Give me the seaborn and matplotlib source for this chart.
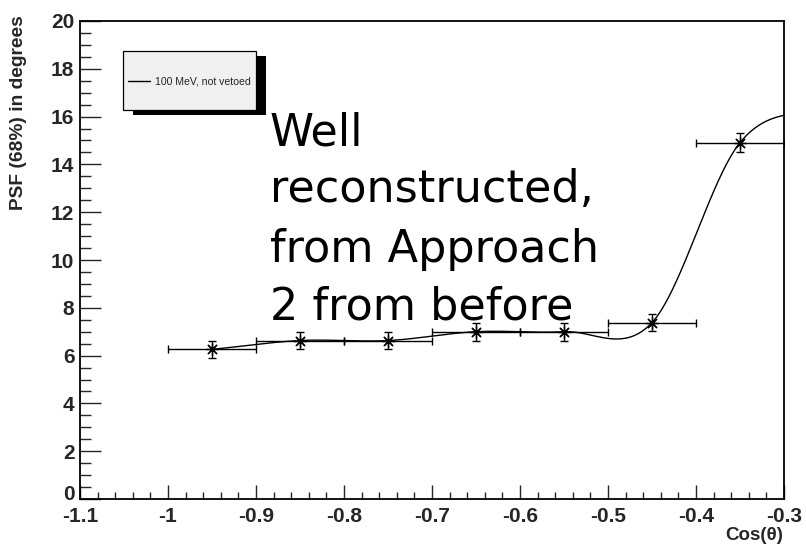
import numpy as np
import pandas as pd
import matplotlib
matplotlib.use("Agg")
import matplotlib.pyplot as plt
import matplotlib.transforms as mtransforms
import seaborn as sns
from matplotlib.patches import Rectangle
from matplotlib.lines import Line2D
from matplotlib.ticker import MultipleLocator

# ---------------- data ----------------
cos_theta = [-0.95, -0.85, -0.75, -0.65, -0.55, -0.45, -0.35, -0.25]
psf_deg = [6.26, 6.63, 6.63, 7.00, 7.00, 7.38, 14.91, 16.45]
psf_err = [0.35, 0.37, 0.37, 0.37, 0.37, 0.36, 0.40, 0.40]
bin_half_width = [0.05, 0.05, 0.05, 0.05, 0.05, 0.05, 0.05, 0.05]
x_ticks = [-1.1, -1.0, -0.9, -0.8, -0.7, -0.6, -0.5, -0.4, -0.3]
x_tick_labels = ["-1.1", "-1", "-0.9", "-0.8", "-0.7", "-0.6", "-0.5", "-0.4", "-0.3"]
y_ticks = [0, 2, 4, 6, 8, 10, 12, 14, 16, 18, 20]
legend_label = "100 MeV, not vetoed"
note_lines = ["Well", "reconstructed,", "from Approach", "2 from before"]
x_title = "Cos(θ)"
y_title = "PSF (68%) in degrees"

W, H, DPI = 806, 548, 100


def smooth_curve(x, y, n_per=80):
    """Catmull-Rom style cubic Hermite curve through the points (like ROOT's 'C')."""
    x = np.asarray(x, float)
    y = np.asarray(y, float)
    n = len(x)
    m = np.zeros(n)
    m[0] = (y[1] - y[0]) / (x[1] - x[0])
    m[-1] = (y[-1] - y[-2]) / (x[-1] - x[-2])
    for i in range(1, n - 1):
        m[i] = (y[i + 1] - y[i - 1]) / (x[i + 1] - x[i - 1])
    xs_all, ys_all = [], []
    for i in range(n - 1):
        h = x[i + 1] - x[i]
        t = np.linspace(0, 1, n_per, endpoint=(i == n - 2))
        h00 = 2 * t ** 3 - 3 * t ** 2 + 1
        h10 = t ** 3 - 2 * t ** 2 + t
        h01 = -2 * t ** 3 + 3 * t ** 2
        h11 = t ** 3 - t ** 2
        xs_all.append(x[i] + t * h)
        ys_all.append(h00 * y[i] + h10 * h * m[i] + h01 * y[i + 1] + h11 * h * m[i + 1])
    return np.concatenate(xs_all), np.concatenate(ys_all)


sns.set_style("white")
plt.rcParams["font.family"] = ["Liberation Sans", "DejaVu Sans"]

fig = plt.figure(figsize=(W / DPI, H / DPI), dpi=DPI)
L, R, T, B = 80, 784, 21, 499
ax = fig.add_axes([L / W, 1 - B / H, (R - L) / W, (B - T) / H])

df = pd.DataFrame({"x": cos_theta, "y": psf_deg, "yerr": psf_err, "xerr": bin_half_width})

# smooth curve through the points
cx, cy = smooth_curve(df["x"], df["y"])
curve = pd.DataFrame({"x": cx, "y": cy})
sns.lineplot(data=curve, x="x", y="y", ax=ax, color="black", linewidth=1.0,
             sort=False, estimator=None)

inside = df[df["x"] <= -0.3]
ax.errorbar(inside["x"], inside["y"], xerr=inside["xerr"], yerr=inside["yerr"],
            fmt="none", ecolor="black", elinewidth=1.0, capsize=2.6, capthick=1.0)
sns.scatterplot(data=inside, x="x", y="y", ax=ax, marker=(8, 2, 0), s=75,
                color="black", linewidth=0.9, zorder=5)

ax.set_xlim(-1.1, -0.3)
ax.set_ylim(0, 20)
ax.set_xticks(x_ticks)
ax.set_xticklabels(x_tick_labels)
ax.set_yticks(y_ticks)
ax.xaxis.set_minor_locator(MultipleLocator(0.02))
ax.yaxis.set_minor_locator(MultipleLocator(0.5))
ax.tick_params(axis="x", which="major", direction="in", length=10.1, width=1.0,
               pad=6, labelsize=15, bottom=True, top=False)
ax.tick_params(axis="x", which="minor", direction="in", length=5.0, width=1.0,
               bottom=True, top=False)
ax.tick_params(axis="y", which="major", direction="in", length=15.1, width=1.0,
               pad=4, labelsize=15, left=True, right=False)
ax.tick_params(axis="y", which="minor", direction="in", length=7.6, width=1.0,
               left=True, right=False)
for lab in ax.get_xticklabels() + ax.get_yticklabels():
    lab.set_fontweight("bold")
# ROOT draws the "0" label slightly above the x axis
ylabs = ax.get_yticklabels()
ylabs[0].set_transform(ylabs[0].get_transform()
                       + mtransforms.ScaledTranslation(0, 5 / 72, fig.dpi_scale_trans))
ax.set_xlabel("")
ax.set_ylabel("")
for sp in ax.spines.values():
    sp.set_visible(True)
    sp.set_color("black")
    sp.set_linewidth(1.3)


def fx(px):
    return px / W


def fy(py):
    return 1 - py / H


# axis titles (ROOT style, aligned to the axis ends)
fig.text(fx(783), fy(535), x_title, ha="right", va="center", fontsize=13.5,
         fontweight="bold")
fig.text(fx(19), fy(15), y_title, ha="center", va="top", rotation=90,
         fontsize=13.8, fontweight="bold")

# legend box with drop shadow
bx0, by0, bx1, by1 = 123, 51, 256, 110
shadow = Rectangle((fx(bx0 + 10), fy(by1 + 5)), fx(bx1 - bx0), (by1 - by0) / H,
                   transform=fig.transFigure, facecolor="black", edgecolor="black",
                   linewidth=0, zorder=10)
box = Rectangle((fx(bx0), fy(by1)), fx(bx1 - bx0), (by1 - by0) / H,
                transform=fig.transFigure, facecolor="#f0f0f0", edgecolor="black",
                linewidth=0.9, zorder=11)
fig.patches.extend([shadow, box])
fig.lines.append(Line2D([fx(128), fx(150)], [fy(81.5), fy(81.5)],
                        transform=fig.transFigure, color="black", linewidth=1.0,
                        zorder=12))
lt = fig.text(fx(155), fy(81.5), legend_label, ha="left", va="center",
              fontsize=7.6, zorder=12)
lt.set_clip_path(box)

# annotation
baselines = [145, 202, 262, 320]
for line, yb in zip(note_lines, baselines):
    fig.text(fx(270), fy(yb), line, ha="left", va="baseline", fontsize=32,
             family="DejaVu Sans", color="black")

fig.savefig("out.png", dpi=DPI)
